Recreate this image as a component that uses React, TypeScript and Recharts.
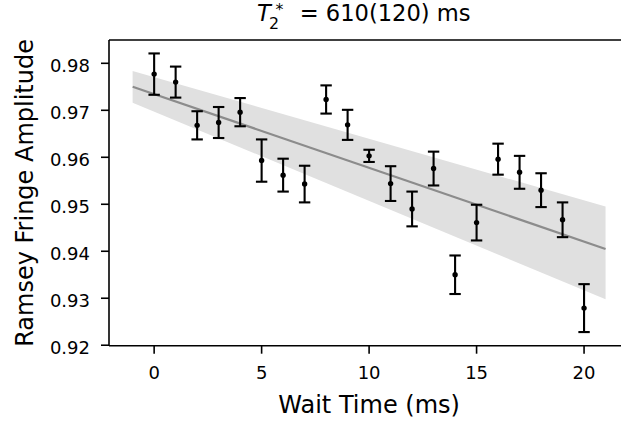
import React from 'react';
import { ComposedChart, XAxis, YAxis, Area, Line, Scatter, ErrorBar, Label, ReferenceLine } from 'recharts';

const waitTimes = [0, 1, 2, 3, 4, 5, 6, 7, 8, 9, 10, 11, 12, 13, 14, 15, 16, 17, 18, 19, 20];
const amplitudes = [0.9777, 0.976, 0.9668, 0.9674, 0.9696, 0.9593, 0.9562, 0.9543, 0.9723, 0.9669, 0.9603, 0.9544, 0.949, 0.9576, 0.935, 0.9461, 0.9596, 0.9568, 0.953, 0.9467, 0.9279];
const errors = [0.0044, 0.0033, 0.003, 0.0033, 0.003, 0.0045, 0.0035, 0.0039, 0.003, 0.0032, 0.0013, 0.0037, 0.0037, 0.0036, 0.0041, 0.0038, 0.0033, 0.0035, 0.0036, 0.0037, 0.0051];

const fitTimes = [-1, 21];
const fitValues = [0.97502, 0.94049];
const bandLower = [0.97162, 0.92979];
const bandUpper = [0.97836, 0.94951];

const xTicks = [0, 5, 10, 15, 20];
const yTicks = [0.92, 0.93, 0.94, 0.95, 0.96, 0.97, 0.98];
const xDomain = [-2.1, 22.1];
const yDomain = [0.9199, 0.98496];

const xLabel = 'Wait Time (ms)';
const yLabel = 'Ramsey Fringe Amplitude';
const titleSymbol = 'T';
const titleSub = '2';
const titleSup = '*';
const titleRest = '= 610(120) ms';

const points = waitTimes.map((t, i) => ({ x: t, y: amplitudes[i], err: errors[i] }));
const fitData = fitTimes.map((t, i) => ({ x: t, fit: fitValues[i], band: [bandLower[i], bandUpper[i]] }));

const FONT = 'DejaVu Sans';

const Dot = (p: any) => <circle cx={p.cx} cy={p.cy} r={2.7} fill="#000" />;

export default function App() {
  return (
    <div style={{ position: 'fixed', left: 0, top: 0, width: 621, height: 423, overflow: 'hidden', background: '#fff' }}>
      <ComposedChart width={648} height={423} margin={{ top: 40, right: 18.8, bottom: 0, left: 0 }}>
        <XAxis
          dataKey="x"
          type="number"
          domain={xDomain}
          ticks={xTicks}
          allowDataOverflow
          height={77.3}
          tickSize={8}
          tickMargin={12.8}
          axisLine={{ stroke: '#000', strokeWidth: 1.6 }}
          tickLine={{ stroke: '#000', strokeWidth: 1.6 }}
          tick={{ fill: '#000', fontSize: 18, fontFamily: FONT }}
        >
          <Label
            content={() => (
              <text x={369.1} y={412.7} textAnchor="middle" fontSize={24} fontFamily={FONT} fill="#000">
                {xLabel}
              </text>
            )}
          />
        </XAxis>
        <YAxis
          type="number"
          domain={yDomain}
          ticks={yTicks}
          allowDataOverflow
          width={109}
          tickSize={8}
          tickMargin={11}
          axisLine={{ stroke: '#000', strokeWidth: 1.6 }}
          tickLine={{ stroke: '#000', strokeWidth: 1.6 }}
          tick={{ fill: '#000', fontSize: 18, fontFamily: FONT, dy: 2 }}
        >
          <Label
            content={() => (
              <text
                x={33}
                y={192.9}
                transform="rotate(-90, 33, 192.9)"
                textAnchor="middle"
                fontSize={24}
                fontFamily={FONT}
                fill="#000"
              >
                {yLabel}
              </text>
            )}
          />
        </YAxis>
        <Area
          data={fitData}
          dataKey="band"
          type="linear"
          stroke="none"
          fill="#e0e0e0"
          fillOpacity={1}
          isAnimationActive={false}
          dot={false}
          activeDot={false}
        />
        <Line
          data={fitData}
          dataKey="fit"
          type="linear"
          stroke="#8c8c8c"
          strokeWidth={2.2}
          dot={false}
          activeDot={false}
          isAnimationActive={false}
        />
        <Scatter data={points} dataKey="y" isAnimationActive={false} shape={Dot}>
          <ErrorBar dataKey="err" direction="y" width={5.7} stroke="#000" strokeWidth={2.1} isAnimationActive={false} />
        </Scatter>
        <ReferenceLine y={yDomain[1]} stroke="#000" strokeWidth={1.6} ifOverflow="visible" />
      </ComposedChart>
      <svg width={621} height={40} style={{ position: 'absolute', left: 0, top: 0, overflow: 'visible' }}>
        <text fontFamily={FONT} fill="#000">
          <tspan x={257} y={21} fontSize={22.6} fontStyle="italic">{titleSymbol}</tspan>
          <tspan x={269} y={28.5} fontSize={15.8}>{titleSub}</tspan>
          <tspan x={275.5} y={14.8} fontSize={15.8}>{titleSup}</tspan>
          <tspan x={299.7} y={21} fontSize={22.6}>{titleRest}</tspan>
        </text>
      </svg>
    </div>
  );
}
